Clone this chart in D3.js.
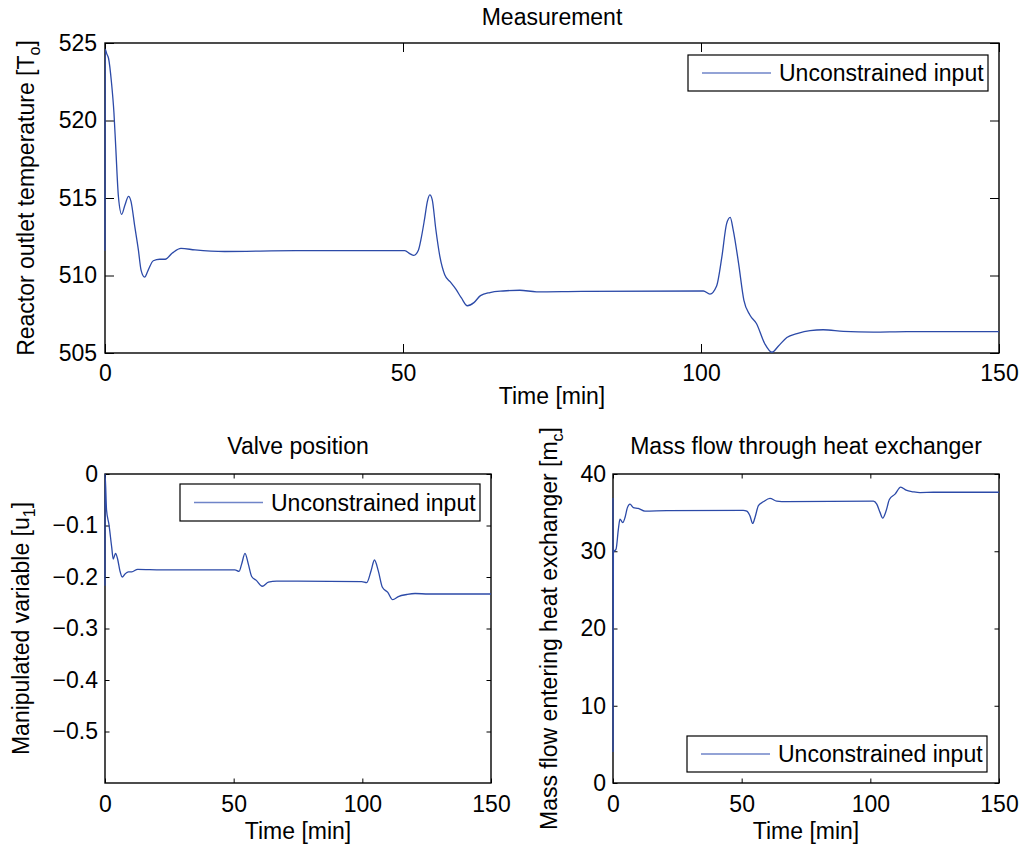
<!DOCTYPE html>
<html>
<head>
<meta charset="utf-8">
<script src="https://cdn.jsdelivr.net/npm/d3@7"></script>
<style>
  body { margin: 0; background: #fff; }
  svg { display: block; font-family: "Liberation Sans", Arial, sans-serif; }
  .tick line { stroke: #000; }
  .tick text { font-size: 23px; fill: #000; }
</style>
</head>
<body>
<svg id="chart" width="1021" height="846"></svg>
<script>
// time axis shared by all panels
const timeTicks = [0, 50, 100, 150];

// reactor outlet temperature (top panel)
const tempTime = [0, 0.03, 0.3, 0.6, 1.1, 1.5, 1.8, 2.25, 2.8, 3.35, 3.95, 4.35, 5.0, 5.6, 6.05, 6.65, 7.25, 8.1, 9.2, 10.1, 11.3, 12.75, 15.1, 20.1, 32, 50.3, 51.2, 51.8, 52.6, 53.0, 53.6, 54.1, 54.5, 54.9, 55.5, 56.2, 57.0, 57.9, 58.9, 59.8, 60.8, 61.9, 63.0, 64.6, 66.8, 69.6, 72.4, 80, 100.4, 101.5, 102.6, 103.5, 104.3, 104.9, 105.4, 106.3, 107.2, 108.2, 109.3, 110.7, 111.9, 113.0, 114.4, 116.1, 118.3, 120.5, 123.9, 128.9, 134.5, 150];
const tempValue = [511.6, 524.6, 524.3, 524.0, 522.4, 520.5, 518.3, 515.1, 513.95, 514.55, 515.1, 514.8, 513.15, 511.65, 510.35, 509.9, 510.35, 510.95, 511.05, 511.05, 511.45, 511.75, 511.65, 511.55, 511.6, 511.6, 511.4, 511.3, 511.65, 512.3, 513.6, 514.8, 515.2, 514.9, 513.0, 511.2, 510.05, 509.6, 509.1, 508.55, 508.05, 508.25, 508.7, 508.9, 509.0, 509.05, 508.95, 508.98, 509.0, 508.8, 509.3, 511.2, 513.35, 513.75, 512.95, 510.8, 508.4, 507.45, 506.9, 505.6, 505.05, 505.45, 506.0, 506.25, 506.45, 506.5, 506.4, 506.35, 506.38, 506.38];
const tempTicks = [505, 510, 515, 520, 525];

// valve position (bottom left)
const valveTime = [0, 0.02, 0.6, 1.5, 2.6, 3.2, 4.1, 4.9, 5.8, 6.7, 7.8, 9.1, 10.4, 12.7, 22, 50.5, 52.1, 53.1, 54.4, 55.7, 57.0, 58.9, 61.1, 63.5, 66.7, 99.8, 101.7, 103.4, 104.7, 106.2, 107.8, 109.9, 111.8, 114.0, 117.3, 120.5, 125.7, 150];
const valveValue = [-0.217, 0, -0.07, -0.097, -0.142, -0.165, -0.154, -0.165, -0.188, -0.2, -0.194, -0.19, -0.19, -0.185, -0.186, -0.186, -0.189, -0.175, -0.154, -0.175, -0.199, -0.207, -0.218, -0.21, -0.208, -0.209, -0.211, -0.188, -0.167, -0.188, -0.22, -0.23, -0.244, -0.238, -0.234, -0.232, -0.233, -0.233];
const valveTicks = [-0.5, -0.4, -0.3, -0.2, -0.1, 0];

// mass flow through heat exchanger (bottom right)
const flowTime = [0, 0.02, 0.15, 1.2, 2.1, 2.7, 3.8, 4.7, 5.6, 6.6, 7.9, 9.8, 12.4, 20.9, 50.6, 52.0, 53.2, 54.3, 55.2, 56.5, 58.4, 61.0, 63.6, 67.5, 101.2, 102.5, 103.8, 104.8, 106.1, 107.4, 109.6, 111.8, 113.9, 116.7, 119.3, 124.5, 150];
const flowValue = [36.9, 4.0, 29.85, 30.3, 32.9, 34.15, 33.7, 34.4, 35.65, 36.1, 35.65, 35.55, 35.2, 35.27, 35.3, 35.2, 34.6, 33.6, 34.4, 35.9, 36.4, 36.85, 36.5, 36.43, 36.5, 36.1, 35.0, 34.3, 35.2, 36.7, 37.4, 38.3, 37.9, 37.7, 37.6, 37.64, 37.64];
const flowTicks = [0, 10, 20, 30, 40];

const legendLabel = 'Unconstrained input';
const lineColor = '#2c4aa8';

const svg = d3.select('#chart');

function drawPanel(p) {
  const x = d3.scaleLinear().domain([0, 150]).range([p.left, p.right]);
  const y = d3.scaleLinear().domain(p.yDomain).range([p.bottom, p.top]);
  const g = svg.append('g');

  // axes, ticks pointing inward on all sides
  g.append('g').attr('transform', `translate(0,${p.bottom})`)
    .call(d3.axisBottom(x).tickValues(timeTicks).tickSize(-p.tick).tickSizeOuter(0).tickPadding(p.xPad).tickFormat(d3.format('d')));
  g.append('g').attr('transform', `translate(0,${p.top})`)
    .call(d3.axisTop(x).tickValues(timeTicks).tickSize(-p.tick).tickSizeOuter(0).tickFormat(''));
  g.append('g').attr('transform', `translate(${p.left},0)`)
    .call(d3.axisLeft(y).tickValues(p.yTicks).tickSize(-p.tick).tickSizeOuter(0).tickPadding(p.yPad).tickFormat(p.yFormat));
  g.append('g').attr('transform', `translate(${p.right},0)`)
    .call(d3.axisRight(y).tickValues(p.yTicks).tickSize(-p.tick).tickSizeOuter(0).tickFormat(''));
  g.selectAll('.domain').remove();

  g.append('rect')
    .attr('x', p.left).attr('y', p.top)
    .attr('width', p.right - p.left).attr('height', p.bottom - p.top)
    .attr('fill', 'none').attr('stroke', '#000').attr('stroke-width', 1.4);

  // data line, on top of the box like the original
  const pts = p.time.map((t, i) => [t, p.values[i]]);
  g.append('path')
    .datum(pts)
    .attr('fill', 'none')
    .attr('stroke', lineColor)
    .attr('stroke-width', 1.3)
    .attr('d', d3.line().x(d => x(d[0])).y(d => y(d[1])).curve(d3.curveMonotoneX));

  // title and axis labels
  g.append('text').attr('x', (p.left + p.right) / 2).attr('y', p.titleY)
    .attr('text-anchor', 'middle').attr('font-size', 23).text(p.title);
  g.append('text').attr('x', (p.left + p.right) / 2).attr('y', p.xLabelY)
    .attr('text-anchor', 'middle').attr('font-size', 23).text('Time [min]');

  const yl = g.append('text')
    .attr('transform', `translate(${p.yLabelX},${(p.top + p.bottom) / 2}) rotate(-90)`)
    .attr('text-anchor', 'middle').attr('font-size', 23);
  yl.append('tspan').text(p.yLabel + ' [' + p.yLabelVar);
  yl.append('tspan').attr('font-size', 16).attr('dy', 6).text(p.yLabelSub);
  yl.append('tspan').attr('dy', -6).text(']');

  // legend
  const L = p.legend;
  g.append('rect').attr('x', L.x).attr('y', L.y).attr('width', L.w).attr('height', L.h)
    .attr('fill', '#fff').attr('stroke', '#000').attr('stroke-width', 1.2);
  g.append('line')
    .attr('x1', L.x + 14).attr('x2', L.x + 83)
    .attr('y1', L.y + L.h / 2).attr('y2', L.y + L.h / 2)
    .attr('stroke', '#6f84c8').attr('stroke-width', 1.3);
  g.append('text').attr('x', L.x + 91).attr('y', L.y + L.h / 2 + 8)
    .attr('font-size', 23).text(legendLabel);
}

drawPanel({
  left: 105, right: 999, top: 43, bottom: 353, tick: 9,
  yDomain: [505, 525], yTicks: tempTicks, yFormat: d3.format('d'),
  time: tempTime, values: tempValue,
  xPad: 12, yPad: 8,
  title: 'Measurement', titleY: 25, xLabelY: 404,
  yLabel: 'Reactor outlet temperature', yLabelVar: 'T', yLabelSub: 'o', yLabelX: 34,
  legend: { x: 688, y: 55, w: 300, h: 36 }
});

drawPanel({
  left: 105, right: 491, top: 474, bottom: 783, tick: 4.5,
  yDomain: [-0.6, 0], yTicks: valveTicks, yFormat: d => d === 0 ? '0' : d3.format('.1f')(d),
  time: valveTime, values: valveValue,
  xPad: 13, yPad: 7,
  title: 'Valve position', titleY: 454, xLabelY: 839,
  yLabel: 'Manipulated variable', yLabelVar: 'u', yLabelSub: '1', yLabelX: 29,
  legend: { x: 180, y: 484, w: 300, h: 37 }
});

drawPanel({
  left: 613, right: 999, top: 474, bottom: 783, tick: 4.5,
  yDomain: [0, 40], yTicks: flowTicks, yFormat: d3.format('d'),
  time: flowTime, values: flowValue,
  xPad: 13, yPad: 7,
  title: 'Mass flow through heat exchanger', titleY: 454, xLabelY: 839,
  yLabel: 'Mass flow entering heat exchanger', yLabelVar: 'm', yLabelSub: 'c', yLabelX: 557,
  legend: { x: 687, y: 736, w: 300, h: 36 }
});
</script>
</body>
</html>
